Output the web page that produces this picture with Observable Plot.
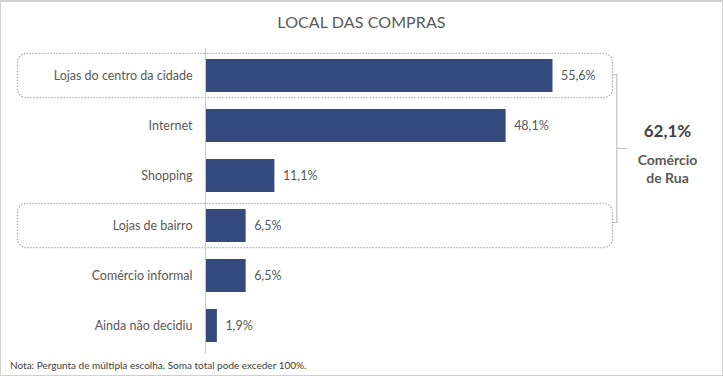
<!DOCTYPE html>
<html><head><meta charset="utf-8">
<script src="https://cdn.jsdelivr.net/npm/d3@7"></script>
<script src="https://cdn.jsdelivr.net/npm/@observablehq/plot@0.6"></script>
<style>
html,body{margin:0;padding:0;background:#fff;}
#wrap{position:relative;width:723px;height:376px;overflow:hidden;font-family:Lato,"Open Sans",sans-serif;}
#wrap svg{position:absolute;left:0;top:0;}
#title{position:absolute;left:0;width:723px;top:12px;text-align:center;font-size:16px;color:#595959;letter-spacing:0.1px;}
#note{position:absolute;left:10px;top:359px;font-size:10px;color:#404040;}
#border{position:absolute;left:0;top:0;width:723px;height:376px;box-sizing:border-box;border:1px solid #d0d0d0;border-top-width:2px;pointer-events:none;}
</style></head><body>
<div id="wrap"></div>
<script>
const categories = ["Lojas do centro da cidade","Internet","Shopping","Lojas de bairro","Comércio informal","Ainda não decidiu"];
const values = [55.6,48.1,11.1,6.5,6.5,1.9];
const valueLabels = ["55,6%","48,1%","11,1%","6,5%","6,5%","1,9%"];
const groupedCategories = ["Lojas do centro da cidade","Lojas de bairro"];
const groupTotal = "62,1%";
const groupLabel = ["Comércio","de Rua"];
const titleText = "LOCAL DAS COMPRAS";
const noteText = "Nota: Pergunta de múltipla escolha. Soma total pode exceder 100%.";

(function(){
const data = categories.map((c,i)=>({category:c,value:values[i],label:valueLabels[i]}));

const plot = Plot.plot({
  width:723, height:376,
  marginLeft:205, marginRight:18, marginTop:48, marginBottom:23,
  style:{fontFamily:"Lato, 'Open Sans', sans-serif", background:"transparent", overflow:"visible"},
  x:{domain:[0,80], axis:null},
  y:{domain:categories, paddingInner:0.35, paddingOuter:0.2, axis:null},
  marks:[
    Plot.barX(groupedCategories,{y:d=>d, x1:-30, x2:65.2, insetTop:-5.6, insetBottom:-5.6, rx:9,
      fill:"none", stroke:"#a6a6a6", strokeWidth:1.3, strokeDasharray:"1.3,1.7"}),
    Plot.barX(data,{y:"category", x:"value", fill:"#344A7D"}),
    Plot.ruleX([0],{stroke:"#c8c8c8", strokeWidth:1}),
    Plot.text(data,{y:"category", x:"value", text:"label", textAnchor:"start", dx:8, fill:"#595959", fontSize:12.5}),
    Plot.text(data,{y:"category", x:0, text:"category", textAnchor:"end", dx:-13, fill:"#595959", fontSize:12.5})
  ]
});

const wrap = document.getElementById("wrap");
wrap.appendChild(plot);

const xs = plot.scale("x"), ys = plot.scale("y");
const yc = c => ys.apply(c) + ys.bandwidth/2;
const bx = xs.apply(65.9);
const yTop = yc(groupedCategories[0]) - 1;
const yBot = yc(groupedCategories[1]) - 3;
const yMid = (yTop+yBot)/2;
const svg = d3.select(plot);
svg.append("path")
  .attr("d",`M${bx-4},${yTop}H${bx}V${yBot}H${bx-4}M${bx},${yMid}H${bx+10}`)
  .attr("fill","none").attr("stroke","#bfbfbf").attr("stroke-width",1.2);
const tx = xs.apply(74);
svg.append("text").attr("x",tx).attr("y",yMid-17).attr("dy","0.35em")
  .attr("text-anchor","middle").attr("font-size",17).attr("font-weight","bold")
  .attr("fill","#404040").text(groupTotal);
groupLabel.forEach((t,i)=>{
  svg.append("text").attr("x",tx).attr("y",yMid+12+i*18).attr("dy","0.35em")
    .attr("text-anchor","middle").attr("font-size",14).attr("font-weight","bold")
    .attr("fill","#595959").text(t);
});

const t = document.createElement("div"); t.id="title"; t.textContent=titleText; wrap.appendChild(t);
const n = document.createElement("div"); n.id="note"; n.textContent=noteText; wrap.appendChild(n);
const b = document.createElement("div"); b.id="border"; wrap.appendChild(b);
})();
</script>
</body></html>
